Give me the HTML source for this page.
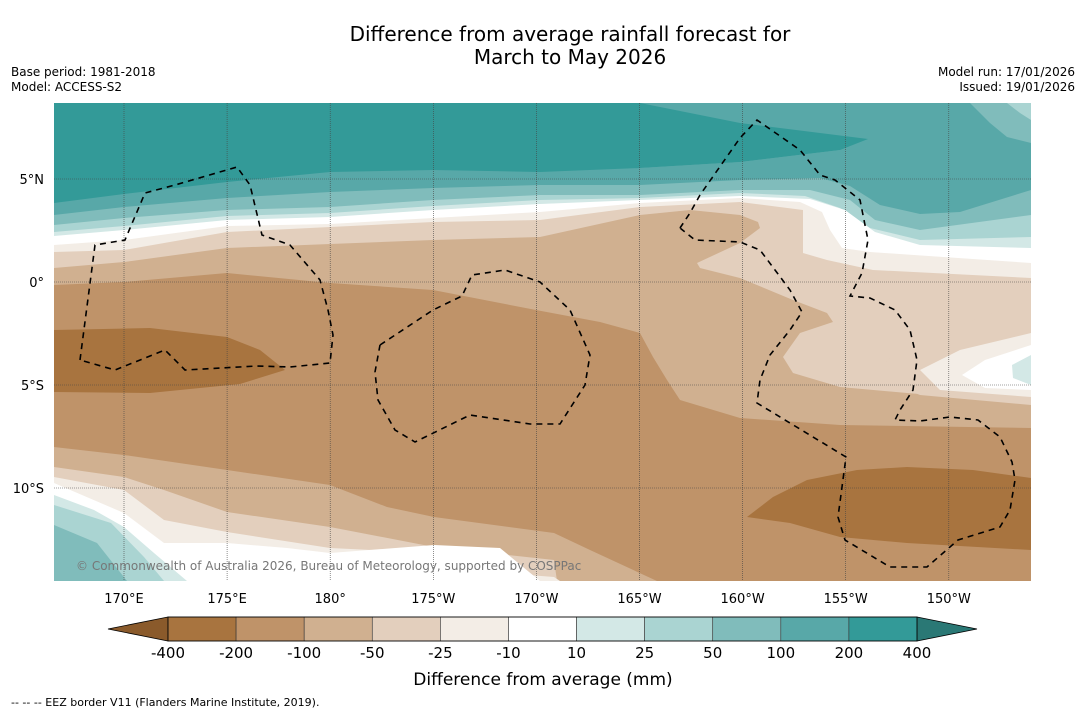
<!DOCTYPE html>
<html><head><meta charset="utf-8"><style>
body{margin:0;background:#fff;font-family:"DejaVu Sans","Liberation Sans",sans-serif;}
#wrap{position:relative;width:1085px;height:713px;overflow:hidden;background:#fff}
.t{position:absolute;white-space:nowrap;color:#000}
</style></head><body>
<div id="wrap">
<div class="t" style="left:0;width:1140px;text-align:center;top:23px;font-size:20px;line-height:23px">Difference from average rainfall forecast for<br>March to May 2026</div>
<div class="t" style="left:11px;top:65px;font-size:12px;line-height:15px">Base period: 1981-2018<br>Model: ACCESS-S2</div>
<div class="t" style="right:10px;top:65px;font-size:12px;line-height:15px;text-align:right">Model run: 17/01/2026<br>Issued: 19/01/2026</div>
<svg id="svg" width="1085" height="713" style="position:absolute;left:0;top:0">
<defs><clipPath id="mc"><rect x="54" y="103" width="977" height="478"/></clipPath></defs>
<g id="map" clip-path="url(#mc)">
<rect x="54" y="103" width="977" height="478" fill="#339a98"/>
<path fill="#58a8a8" d="M640,103 L1031,103 L1031,230 L540,185 L640,168 L740,162 L840,150 L868,139 L740,123 Z"/>
<path fill="#80bcbb" d="M970,103 L1031,103 L1031,143 L1007,137 L990,123 Z"/>
<path fill="#aad4d2" d="M1007,103 L1031,103 L1031,120 L1020,113 Z"/>
<path fill="#58a8a8" d="M54,203 L124,194 L227,182 L330,172 L433,170 L540,172 L640,168 L740,162 L840,150 L1031,150 L1031,581 L54,581 Z"/>
<path fill="#80bcbb" d="M54,215 L124,207 L227,198 L330,192 L433,188 L540,185 L640,185 L740,180 L820,178 L850,186 L880,205 L920,214 L960,212 L1031,190 L1031,581 L54,581 Z"/>
<path fill="#aad4d2" d="M54,225 L124,218 L227,210 L330,207 L433,200 L540,195 L640,195 L740,190 L810,190 L850,200 L875,220 L920,230 L1031,215 L1031,581 L54,581 Z"/>
<path fill="#d3e8e6" d="M54,232 L124,226 L227,216 L330,213 L433,206 L540,200 L640,198 L740,193 L805,196 L840,208 L870,228 L920,240 L1031,237 L1031,581 L54,581 Z"/>
<path fill="#ffffff" d="M54,236 L124,230 L227,220 L330,217 L433,210 L540,204 L640,200 L740,196 L810,199 L845,210 L875,232 L920,245 L1031,248 L1031,581 L54,581 Z"/>
<path fill="#f3ede6" d="M54,245 L124,240 L227,226 L330,224 L433,218 L540,212 L640,203 L740,198 L800,202 L822,212 L830,230 L842,248 L870,252 L1031,263 L1031,581 L54,581 Z"/>
<path fill="#e3cfbd" d="M54,252 L124,250 L227,232 L330,227 L433,222 L540,220 L640,207 L740,202 L803,210 L803,253 L827,260 L873,270 L1031,278 L1031,581 L54,581 Z"/>
<path fill="#d0b090" d="M54,268 L124,262 L227,248 L330,244 L433,240 L540,237 L640,215 L690,210 L740,215 L758,222 L760,228 L740,243 L697,263 L700,268 L740,278 L793,300 L827,313 L833,322 L800,333 L783,357 L793,373 L840,387 L907,393 L1031,403 L1031,581 L54,581 Z"/>
<path fill="#bf9369" d="M54,285 L124,282 L227,273 L330,283 L433,290 L536,310 L600,322 L640,333 L653,357 L667,380 L680,400 L740,418 L840,425 L1031,428 L1031,581 L54,581 Z"/>
<path fill="#a8743f" d="M54,330 L150,328 L227,337 L260,350 L285,370 L240,384 L150,393 L54,392 Z"/>
<path fill="#a8743f" d="M747,517 L773,497 L807,480 L857,470 L907,467 L973,470 L1031,478 L1031,550 L907,543 L840,537 L790,523 Z"/>
<path fill="#e3cfbd" d="M1031,300 L960,325 L900,350 L870,375 L920,395 L1031,405 Z"/>
<path fill="#f3ede6" d="M1031,333 L960,350 L920,370 L940,390 L1031,397 Z"/>
<path fill="#ffffff" d="M1031,345 L985,360 L962,375 L985,388 L1031,390 Z"/>
<path fill="#d3e8e6" d="M1031,355 L1012,365 L1013,378 L1031,385 Z"/>
<path fill="#d0b090" d="M54,447 L124,455 L227,470 L330,485 L387,507 L434,517 L554,533 L590,550 L657,581 L54,581 Z"/>
<path fill="#e3cfbd" d="M54,467 L124,477 L164,490 L227,512 L330,527 L434,547 L554,560 L557,581 L54,581 Z"/>
<path fill="#f3ede6" d="M54,477 L124,490 L164,520 L227,532 L330,548 L434,553 L504,573 L554,577 L560,581 L54,581 Z"/>
<path fill="#ffffff" d="M54,483 L124,513 L164,543 L227,543 L287,548 L330,553 L434,545 L500,548 L540,581 L54,581 Z"/>
<path fill="#d3e8e6" d="M54,495 L94,510 L124,527 L154,553 L187,581 L54,581 Z"/>
<path fill="#aad4d2" d="M54,505 L111,523 L144,557 L164,581 L54,581 Z"/>
<path fill="#80bcbb" d="M54,525 L97,543 L127,581 L54,581 Z"/>
</g>
<g id="grid"></g>
<g id="eez" fill="none" stroke="#000" stroke-width="1.6" stroke-dasharray="6,5" clip-path="url(#mc)">
<polyline points="80,360 95,245 125,240 145,193 175,185 237,167 250,185 262,235 290,245 320,280 328,310 333,335 330,363 290,367 257,366 185,370 165,350 115,370 80,360"/>
<polyline points="380,345 433,310 462,296 472,275 505,270 540,282 570,310 590,355 585,385 560,424 530,424 470,415 415,442 395,430 378,400 375,372 380,345"/>
<polyline points="680,228 695,240 740,242 760,250 790,290 802,312 790,330 770,355 760,380 757,403 846,457 838,517 845,540 890,567 927,567 958,540 1000,527 1010,510 1015,480 1012,462 1000,437 978,420 950,417 920,421 895,420 900,410 913,390 917,360 910,330 895,310 870,298 850,296 862,273 868,240 860,200 835,180 820,175 800,150 757,120 740,138 700,195 690,213 680,228"/>
</g>
<text x="76" y="570" font-size="12" fill="#777" font-family="DejaVu Sans, sans-serif">© Commonwealth of Australia 2026, Bureau of Meteorology, supported by COSPPac</text>
<g id="axes"></g>
<g id="cbar"></g>
<text x="543" y="685" font-size="17" text-anchor="middle">Difference from average (mm)</text>
<text x="11" y="706" font-size="11">--  --  -- EEZ border V11 (Flanders Marine Institute, 2019).</text>
</svg>
</div>
<script>
const lonTicks=["170°E","175°E","180°","175°W","170°W","165°W","160°W","155°W","150°W"];
const lonValues=[170,175,180,185,190,195,200,205,210];
const latTicks=["5°N","0°","5°S","10°S"];
const latValues=[5,0,-5,-10];
const levels=[-400,-200,-100,-50,-25,-10,10,25,50,100,200,400];
const levelColors=["#a8743f","#bf9369","#d0b090","#e3cfbd","#f3ede6","#ffffff","#d3e8e6","#aad4d2","#80bcbb","#58a8a8","#339a98"];
const extendColors=["#8a5a2b","#2a7875"];
const NS="http://www.w3.org/2000/svg";
const xLon=v=>124+(v-170)*20.62;
const yLat=v=>282-v*20.6;
function mk(tag,attrs,parent){const e=document.createElementNS(NS,tag);for(const k in attrs)e.setAttribute(k,attrs[k]);parent.appendChild(e);return e;}
const grid=document.getElementById('grid'),axes=document.getElementById('axes'),cb=document.getElementById('cbar');
lonValues.forEach((v,i)=>{const x=xLon(v);
 const l=mk('line',{x1:x,x2:x,y1:103,y2:581,stroke:'#444','stroke-width':0.6,'stroke-dasharray':'1,1'},grid);
 
 
 const t=mk('text',{x:x,y:603,'font-size':13,'text-anchor':'middle'},axes);t.textContent=lonTicks[i];
 
 });
latValues.forEach((v,i)=>{const y=yLat(v);
 const l=mk('line',{x1:54,x2:1031,y1:y,y2:y,stroke:'#444','stroke-width':0.6,'stroke-dasharray':'1,1'},grid);
 
 
 const t=mk('text',{x:44,y:y+5,'font-size':13,'text-anchor':'end'},axes);t.textContent=latTicks[i];
 
 });
const cx0=168,cx1=917,cy=617,ch=24,n=levels.length-1,w=(cx1-cx0)/n;
const lt=mk('polygon',{points:`${cx0},${cy} 108,${cy+ch/2} ${cx0},${cy+ch}`,fill:extendColors[0],stroke:'#000','stroke-width':0.8},cb);


const rt=mk('polygon',{points:`${cx1},${cy} 977,${cy+ch/2} ${cx1},${cy+ch}`,fill:extendColors[1],stroke:'#000','stroke-width':0.8},cb);


levelColors.forEach((c,i)=>{const r=mk('rect',{x:cx0+i*w,y:cy,width:w,height:ch,fill:c,stroke:'#333','stroke-width':0.6},cb);
 
 });
mk('rect',{x:cx0,y:cy,width:cx1-cx0,height:ch,fill:'none',stroke:'#000','stroke-width':0.8},cb);
levels.forEach((v,i)=>{const t=mk('text',{x:cx0+i*w,y:658,'font-size':15,'text-anchor':'middle'},cb);t.textContent=v;
 
 });
</script>
</body></html>
